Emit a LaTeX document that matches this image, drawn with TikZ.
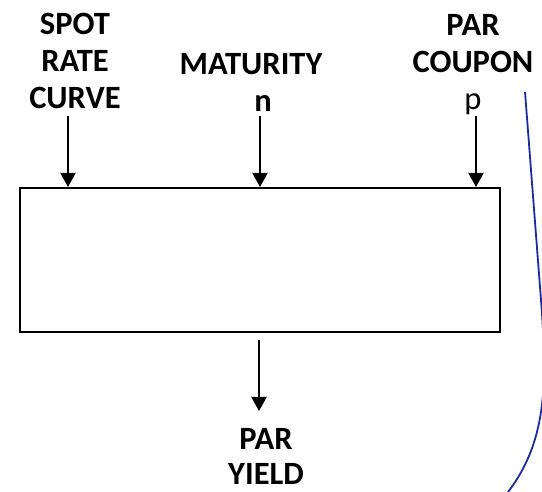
\documentclass[tikz,border=0pt]{standalone}
\usepackage{fontspec}
\setmainfont{Carlito}
\usetikzlibrary{arrows.meta}
\definecolor{bracketblue}{RGB}{25,45,160}

\begin{document}
\begin{tikzpicture}[x=1pt, y=-1pt,
  lbl/.style={font=\fontsize{32.5}{37}\selectfont\bfseries, align=center,
              inner sep=0pt, anchor=north},
  box/.style={draw, line width=2pt, minimum width=480pt, minimum height=144pt,
              inner sep=0pt},
  flow/.style={-{Triangle[width=15pt,length=14pt]}, line width=2pt}
]
  \useasboundingbox (0,0) rectangle (542,492);

  \node[box] (model) at (260,260) {};

  \node[lbl] (spot)   at (75,13)  {SPOT\\RATE\\CURVE};
  \node[lbl] (mat)    at (251,53) {MATURITY};
  \node[lbl] (n)      at (263,95) {n};
  \node[lbl] (coupon) at (473,14) {PAR\\COUPON\\\mdseries p};
  \node[lbl, font=\fontsize{32.5}{35}\selectfont\bfseries]
             (yield)  at (266,428) {PAR\\YIELD};

  % inputs
  \coordinate (in1) at (68,116);
  \coordinate (in2) at (260,116);
  \coordinate (in3) at (476,116);
  \draw[flow] (in1) -- (in1 |- model.north);
  \draw[flow] (in2) -- (in2 |- model.north);
  \draw[flow] (in3) -- (in3 |- model.north);

  % output
  \coordinate (out1) at (259,340);
  \coordinate (out2) at (259,411);
  \draw[flow] (out1) -- (out2);

  % bracket edge
  \draw[bracketblue, line width=1.8pt] (525,92) -- (541,300)
    .. controls (547,380) and (548,440) .. (508,492);
\end{tikzpicture}
\end{document}
